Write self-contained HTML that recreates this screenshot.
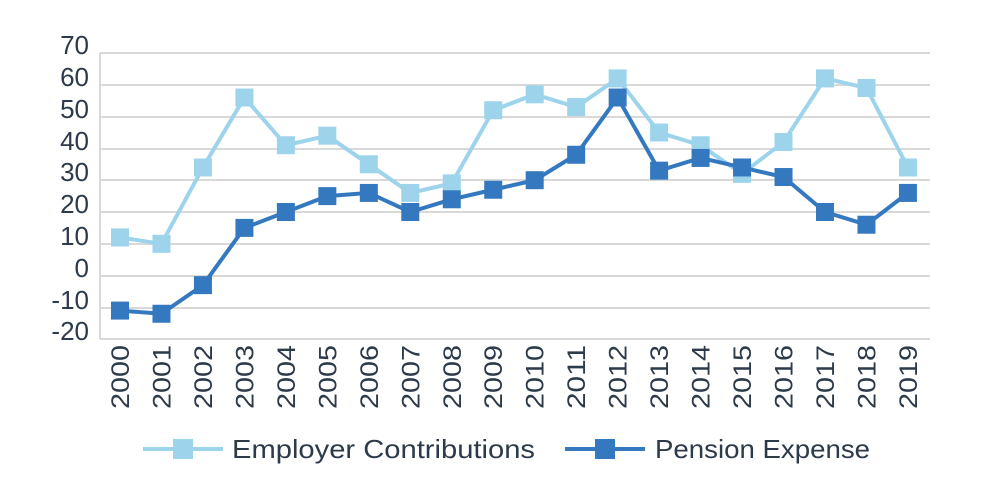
<!DOCTYPE html><html><head><style>body{margin:0;background:#fff}</style></head><body>
<svg width="1000" height="498" xmlns="http://www.w3.org/2000/svg" font-family="Liberation Sans, sans-serif" fill="#2d3a4a">
<g stroke="#d9d9d9" stroke-width="2">
<line x1="100" x2="930" y1="53" y2="53"/><line x1="100" x2="930" y1="85" y2="85"/><line x1="100" x2="930" y1="117" y2="117"/><line x1="100" x2="930" y1="149" y2="149"/><line x1="100" x2="930" y1="180" y2="180"/><line x1="100" x2="930" y1="212" y2="212"/><line x1="100" x2="930" y1="244" y2="244"/><line x1="100" x2="930" y1="276" y2="276"/><line x1="100" x2="930" y1="308" y2="308"/><line x1="100" x2="930" y1="339" y2="339"/><line x1="100" x2="100" y1="53" y2="339"/>
</g>
<g font-size="26" text-anchor="end">
<text x="89" y="54">70</text><text x="89" y="86">60</text><text x="89" y="118">50</text><text x="89" y="150">40</text><text x="89" y="181">30</text><text x="89" y="213">20</text><text x="89" y="245">10</text><text x="89" y="277">0</text><text x="89" y="309">-10</text><text x="89" y="340">-20</text>
</g>
<g id="xl" font-size="25"></g>
<polyline id="ec" fill="none" stroke="#9dd4ec" stroke-width="4"/>
<polyline id="pe" fill="none" stroke="#3479c0" stroke-width="4"/>
<g id="m"></g>
<line x1="143" x2="223" y1="449" y2="449" stroke="#9dd4ec" stroke-width="4"/><rect x="173" y="439" width="20" height="20" fill="#9dd4ec"/>
<text x="232" y="458" font-size="26" textLength="303" lengthAdjust="spacingAndGlyphs">Employer Contributions</text>
<line x1="565" x2="645" y1="449" y2="449" stroke="#3479c0" stroke-width="4"/><rect x="595" y="439" width="20" height="20" fill="#3479c0"/>
<text x="655" y="458" font-size="26" textLength="215" lengthAdjust="spacingAndGlyphs">Pension Expense</text>
</svg>
<script>
var ec=[12,10,34,56,41,44,35,26,29,52,57,53,62,45,41,32,42,62,59,34],pe=[-11,-12,-3,15,20,25,26,20,24,27,30,38,56,33,37,34,31,20,16,26];
function X(i){return 120+i*41.47}function Y(v){return 275.6-v*3.18}
var ns="http://www.w3.org/2000/svg";
document.getElementById('ec').setAttribute('points',ec.map((v,i)=>X(i)+','+Y(v)).join(' '));
document.getElementById('pe').setAttribute('points',pe.map((v,i)=>X(i)+','+Y(v)).join(' '));
var m=document.getElementById('m'),xl=document.getElementById('xl');
[[ec,'#9dd4ec'],[pe,'#3479c0']].forEach(function(s){s[0].forEach(function(v,i){var r=document.createElementNS(ns,'rect');r.setAttribute('x',X(i)-9);r.setAttribute('y',Y(v)-9);r.setAttribute('width',18);r.setAttribute('height',18);r.setAttribute('fill',s[1]);m.appendChild(r);});});
for(var i=0;i<20;i++){var t=document.createElementNS(ns,'text');t.setAttribute('transform','translate('+(X(i)+9)+',409) rotate(-90)');t.setAttribute('textLength','64');t.setAttribute('lengthAdjust','spacingAndGlyphs');t.textContent=2000+i;xl.appendChild(t);}
</script>
</body></html>
